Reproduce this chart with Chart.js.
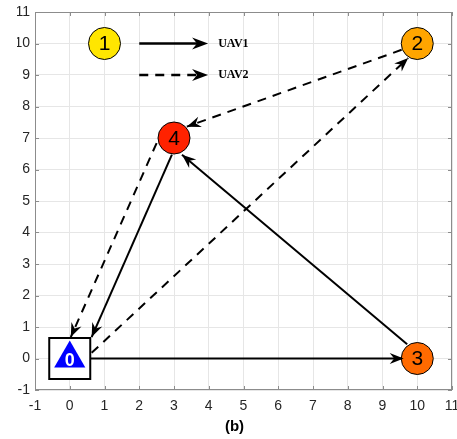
<!DOCTYPE html>
<html>
<head>
<meta charset="utf-8">
<script src="https://cdn.jsdelivr.net/npm/chart.js@4.4.1/dist/chart.umd.min.js"></script>
<style>
  html, body { margin: 0; padding: 0; background: #fff; }
</style>
</head>
<body>
<canvas id="grafico" width="457" height="439"></canvas>
<script>
// Ticks de ambos ejes
const axisTicks = [-1, 0, 1, 2, 3, 4, 5, 6, 7, 8, 9, 10, 11];

// Nodos (objetivos)
const nodeIds = ['1', '2', '3', '4'];
const nodeX = [1, 10, 10, 3];
const nodeY = [10, 10, 0, 7];
const nodeColors = ['#ffe600', '#ffa500', '#ff6a00', '#ff2200'];

// Base de despegue
const baseX = [0];
const baseY = [0];
const baseIds = ['0'];

// Trayectorias [x, y] inicio / fin de cada flecha
const uav1Start = [[0.60, 0.00], [9.71, 0.45], [2.94, 6.47]];
const uav1End   = [[9.61, 0.00], [3.23, 6.47], [0.63, 0.68]];
const uav2Start = [[0.63, 0.18], [9.55, 9.80], [2.50, 6.84]];
const uav2End   = [[9.74, 9.54], [3.37, 7.36], [0.03, 0.68]];

const legendNames = ['UAV1', 'UAV2'];

const FONT = '"Liberation Sans", Arial, sans-serif';

function segmentDatasets(starts, ends, dashed) {
    return starts.map((s, i) => ({
        data: [{ x: s[0], y: s[1] }, { x: ends[i][0], y: ends[i][1] }],
        showLine: true,
        borderColor: '#000',
        borderWidth: 2,
        borderDash: dashed ? [9, 7] : [],
        pointRadius: 0,
        order: 5,
        arrow: true
    }));
}

// Punta de flecha tipo "vback2"
function drawHead(ctx, x0, y0, x1, y1, len, half, notch) {
    const a = Math.atan2(y1 - y0, x1 - x0);
    ctx.save();
    ctx.translate(x1, y1);
    ctx.rotate(a);
    ctx.beginPath();
    ctx.moveTo(0, 0);
    ctx.lineTo(-len, -half);
    ctx.lineTo(-len + notch, 0);
    ctx.lineTo(-len, half);
    ctx.closePath();
    ctx.fillStyle = '#000';
    ctx.fill();
    ctx.restore();
}

const decor = {
    id: 'decor',
    afterDatasetsDraw(chart) {
        const ctx = chart.ctx;
        const xs = chart.scales.x, ys = chart.scales.y;

        // Flechas
        chart.data.datasets.forEach(ds => {
            if (!ds.arrow) return;
            const p0 = ds.data[0], p1 = ds.data[1];
            drawHead(ctx, xs.getPixelForValue(p0.x), ys.getPixelForValue(p0.y),
                xs.getPixelForValue(p1.x), ys.getPixelForValue(p1.y), 14, 5.5, 4.5);
        });

        // Numeros de los nodos
        ctx.save();
        ctx.textAlign = 'center';
        ctx.textBaseline = 'middle';
        ctx.fillStyle = '#000';
        ctx.font = '21px ' + FONT;
        nodeIds.forEach((t, i) => {
            ctx.fillText(t, xs.getPixelForValue(nodeX[i]), ys.getPixelForValue(nodeY[i]) + 1);
        });
        ctx.fillStyle = '#fff';
        ctx.font = 'bold 18px ' + FONT;
        baseIds.forEach((t, i) => {
            ctx.fillText(t, xs.getPixelForValue(baseX[i]), ys.getPixelForValue(baseY[i]) + 3);
        });

        // Leyenda
        [10, 9].forEach((yv, i) => {
            const py = ys.getPixelForValue(yv);
            const xa = xs.getPixelForValue(2), xb = xs.getPixelForValue(3.98);
            ctx.beginPath();
            ctx.setLineDash(i === 1 ? [9, 7] : []);
            ctx.lineWidth = 2.5;
            ctx.strokeStyle = '#000';
            ctx.moveTo(xa, py);
            ctx.lineTo(xb - 8, py);
            ctx.stroke();
            ctx.setLineDash([]);
            drawHead(ctx, xa, py, xb, py, 16, 6, 5);
            ctx.fillStyle = '#000';
            ctx.textAlign = 'left';
            ctx.font = 'bold 12px "Liberation Serif", "Times New Roman", serif';
            ctx.fillText(legendNames[i], xs.getPixelForValue(4.27), py);
        });
        ctx.restore();
    },
    afterDraw(chart) {
        const ctx = chart.ctx;
        const a = chart.chartArea;
        const xs = chart.scales.x, ys = chart.scales.y;
        ctx.save();
        ctx.strokeStyle = '#8c8c8c';
        ctx.lineWidth = 1;
        ctx.strokeRect(a.left + 0.5, a.top + 0.5, a.right - a.left - 1, a.bottom - a.top - 1);
        ctx.beginPath();
        axisTicks.forEach(v => {
            const px = Math.round(xs.getPixelForValue(v)) + 0.5;
            ctx.moveTo(px, a.bottom); ctx.lineTo(px, a.bottom - 4);
            ctx.moveTo(px, a.top); ctx.lineTo(px, a.top + 4);
            const py = Math.round(ys.getPixelForValue(v)) + 0.5;
            ctx.moveTo(a.left, py); ctx.lineTo(a.left + 4, py);
            ctx.moveTo(a.right, py); ctx.lineTo(a.right - 4, py);
        });
        ctx.stroke();
        ctx.restore();
    }
};

const datasets = [
    {
        data: nodeX.map((x, i) => ({ x: x, y: nodeY[i] })),
        pointRadius: 16,
        pointBackgroundColor: nodeColors,
        pointBorderColor: '#000',
        pointBorderWidth: 1,
        order: 0
    },
    {
        data: baseX.map((x, i) => ({ x: x, y: baseY[i] })),
        pointStyle: 'triangle',
        pointRadius: 18,
        pointBackgroundColor: '#0000ff',
        pointBorderWidth: 0,
        order: 1
    },
    {
        data: baseX.map((x, i) => ({ x: x, y: baseY[i] })),
        pointStyle: 'rect',
        pointRadius: 29,
        pointBackgroundColor: '#fff',
        pointBorderColor: '#000',
        pointBorderWidth: 2,
        order: 2
    },
    ...segmentDatasets(uav1Start, uav1End, false),
    ...segmentDatasets(uav2Start, uav2End, true)
];

function tickAxis(pos) {
    return {
        type: 'linear',
        position: pos,
        min: axisTicks[0],
        max: axisTicks[axisTicks.length - 1],
        afterBuildTicks: s => { s.ticks = axisTicks.map(v => ({ value: v })); },
        grid: { color: '#e6e6e6', drawTicks: false },
        border: { display: false },
        ticks: {
            color: '#262626',
            font: { size: 14, family: FONT },
            padding: pos === 'bottom' ? 8 : 5,
            autoSkip: false,
            maxRotation: 0
        }
    };
}

const xAxis = tickAxis('bottom');
xAxis.afterFit = s => { s.height = 26; s.paddingLeft = 0; s.paddingRight = 0; };
const yAxis = tickAxis('left');
yAxis.afterFit = s => { s.width = 18; s.paddingTop = 0; s.paddingBottom = 0; };

new Chart(document.getElementById('grafico'), {
    type: 'scatter',
    data: { datasets: datasets },
    options: {
        responsive: false,
        animation: false,
        events: [],
        layout: { autoPadding: false, padding: { left: 17, right: 5, top: 12, bottom: 0 } },
        scales: { x: xAxis, y: yAxis },
        plugins: {
            legend: { display: false },
            tooltip: { enabled: false },
            title: {
                display: true,
                text: '(b)',
                position: 'bottom',
                color: '#000',
                font: { size: 15, weight: 'bold', family: FONT },
                padding: { top: 2, bottom: 3 }
            }
        }
    },
    plugins: [decor]
});
</script>
</body>
</html>
